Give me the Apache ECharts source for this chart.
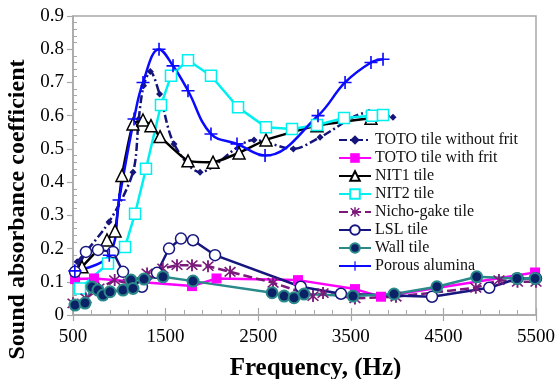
<!DOCTYPE html>
<html>
<head>
<meta charset="utf-8">
<script src="https://cdn.jsdelivr.net/npm/echarts@6/dist/echarts.min.js"></script>
<style>html,body{margin:0;padding:0;background:#fff}#c{width:555px;height:379px}</style>
</head>
<body>
<div id="c"></div>
<script>
// ---- data ----
const seriesNames = ["TOTO tile without frit","TOTO tile with frit","NIT1 tile","NIT2 tile","Nicho-gake tile","LSL tile","Wall tile","Porous alumina"];
const xTickLabels = [500,1500,2500,3500,4500,5500];
const yTickLabels = [0,0.1,0.2,0.3,0.4,0.5,0.6,0.7,0.8,0.9];

const totoNoFritHz  = [545,889,1148,1210,1262,1335,1435,1591,1872,2455,2880,3168,3697,3956];
const totoNoFritVal = [0.16,0.28,0.43,0.59,0.69,0.733,0.665,0.515,0.43,0.527,0.50,0.535,0.61,0.595];

const totoFritHz  = [522,727,1785,2050,2930,3545,3826,5490];
const totoFritVal = [0.108,0.11,0.087,0.11,0.105,0.078,0.055,0.128];

const nit1Hz  = [597,867,954,1029,1148,1256,1342,1440,1742,2012,2293,2584,3135,3718];
const nit1Val = [0.145,0.226,0.253,0.42,0.575,0.587,0.57,0.537,0.464,0.46,0.488,0.527,0.57,0.592];

const nit2Hz  = [576,878,1062,1170,1288,1450,1558,1742,1990,2282,2584,2865,3135,3427,3729,3848];
const nit2Val = [0.08,0.155,0.205,0.305,0.44,0.632,0.72,0.767,0.72,0.625,0.565,0.56,0.572,0.593,0.60,0.602];

const nichoHz  = [500,640,780,950,1100,1300,1470,1623,1785,1958,2196,2660,3092,3200,3545,3988,4850,5100,5300,5500];
const nichoVal = [0.035,0.05,0.08,0.105,0.095,0.125,0.14,0.15,0.15,0.147,0.13,0.097,0.057,0.066,0.05,0.055,0.082,0.105,0.1,0.1];

const lslHz  = [522,640,770,932,1040,1245,1407,1537,1666,1796,2034,2960,3394,4377,4995,5300,5500];
const lslVal = [0.13,0.19,0.196,0.19,0.13,0.085,0.127,0.2,0.23,0.225,0.18,0.085,0.064,0.055,0.082,0.11,0.11];

const wallHz  = [522,630,705,770,824,900,1040,1126,1148,1267,1472,1796,2650,2780,2887,2995,3524,3967,4430,4860,5295,5490];
const wallVal = [0.03,0.036,0.084,0.075,0.06,0.07,0.075,0.105,0.08,0.108,0.115,0.102,0.067,0.057,0.052,0.063,0.057,0.063,0.085,0.115,0.11,0.11];

const porousHz  = [520,892,997,1159,1256,1429,1580,1742,1990,2271,2574,3146,3438,3718,3848];
const porousVal = [0.133,0.18,0.346,0.59,0.70,0.80,0.75,0.675,0.545,0.515,0.48,0.60,0.70,0.76,0.77];

// ---- build ----
const X0 = xTickLabels[0];
const pts = (hz, v) => hz.map((f, i) => [f - X0, v[i]]);
const serif = '"Liberation Serif","Times New Roman",serif';
const gray = '#a8a8a8';

const asterisk = 'path://M-1.2,-9L1.2,-9L1.2,9L-1.2,9Z M-6.22,-7.78L7.78,6.22L6.22,7.78L-7.78,-6.22Z M7.78,-6.22L-6.22,7.78L-7.78,6.22L6.22,-7.78Z';
const plus = 'path://M-1,-8L1,-8L1,-1L8,-1L8,1L1,1L1,8L-1,8L-1,1L-8,1L-8,-1L-1,-1Z';

function mk(name, data, color, opts) {
  return Object.assign({
    name, type: 'line', data,
    lineStyle: { color, width: 2.5 },
    itemStyle: { color },
    symbolSize: 10,
    animation: false
  }, opts);
}

const series = [
  mk(seriesNames[0], pts(totoNoFritHz, totoNoFritVal), '#14147a', {
    symbol: 'diamond', symbolSize: 7, smooth: 0.3,
    lineStyle: { color: '#14147a', width: 2.5, type: [8, 3, 2, 3] }
  }),
  mk(seriesNames[1], pts(totoFritHz, totoFritVal), '#ff00ff', {
    symbol: 'rect', symbolSize: 10
  }),
  mk(seriesNames[2], pts(nit1Hz, nit1Val), '#000000', {
    symbol: 'triangle', symbolSize: 12, smooth: 0.15,
    itemStyle: { color: '#ffffff', borderColor: '#000000', borderWidth: 1.5 }
  }),
  mk(seriesNames[3], pts(nit2Hz, nit2Val), '#00f0f0', {
    symbol: 'rect', symbolSize: 11,
    itemStyle: { color: '#ffffff', borderColor: '#00f0f0', borderWidth: 1.5 }
  }),
  mk(seriesNames[4], pts(nichoHz, nichoVal), '#7a1a7a', {
    symbol: asterisk, symbolSize: 12,
    lineStyle: { color: '#7a1a7a', width: 2.5, type: [9, 4] }
  }),
  mk(seriesNames[5], pts(lslHz, lslVal), '#16167e', {
    symbol: 'circle', symbolSize: 11,
    itemStyle: { color: '#ffffff', borderColor: '#16167e', borderWidth: 1.5 }
  }),
  mk(seriesNames[6], pts(wallHz, wallVal), '#2a8a8a', {
    symbol: 'circle', symbolSize: 11,
    itemStyle: { color: '#0c2266', borderColor: '#2a8a8a', borderWidth: 2 }
  }),
  mk(seriesNames[7], pts(porousHz, porousVal), '#0a0aff', {
    symbol: plus, symbolSize: 13, smooth: 0.4
  })
];

const chart = echarts.init(document.getElementById('c'), null, { renderer: 'canvas' });
chart.setOption({
  backgroundColor: '#ffffff',
  animation: false,
  grid: { left: 73, right: 19, top: 16, bottom: 64, show: true, borderColor: gray, borderWidth: 1.5,
          backgroundColor: 'transparent', containLabel: false, outerBoundsMode: 'none' },
  legend: {
    data: seriesNames,
    orient: 'vertical',
    left: 333, top: 126,
    itemWidth: 32, itemHeight: 12, itemGap: 0,
    selectedMode: false,
    textStyle: { fontFamily: serif, fontSize: 16, color: '#111', lineHeight: 18, padding: [0,0,0,-1] }
  },
  xAxis: [{
    type: 'value', min: 0, max: xTickLabels[xTickLabels.length - 1] - X0, interval: 1000,
    axisLine: { show: true, lineStyle: { color: gray, width: 1.5 } },
    axisTick: { show: true, inside: false, length: 6, lineStyle: { color: gray, width: 1.2 } },
    axisLabel: { formatter: v => String(v + X0), fontFamily: serif, fontSize: 19, color: '#000', margin: 13 },
    splitLine: { show: false },
    name: 'Frequency, (Hz)', nameLocation: 'middle', nameGap: 41,
    nameTextStyle: { fontFamily: serif, fontSize: 25, fontWeight: 'bold', color: '#000', padding: [0,0,0,22] }
  }, {
    type: 'value', min: 0, max: xTickLabels[xTickLabels.length - 1] - X0, interval: 1000, position: 'bottom',
    axisLine: { show: false },
    axisTick: { show: true, inside: true, length: 7, lineStyle: { color: gray, width: 1.2 } },
    minorTick: { show: true, splitNumber: 5, length: 5, lineStyle: { color: gray, width: 1 } },
    axisLabel: { show: false }, splitLine: { show: false }
  }],
  yAxis: [{
    type: 'value', min: 0, max: yTickLabels[yTickLabels.length - 1], interval: 0.1,
    axisLine: { show: true, lineStyle: { color: gray, width: 1.5 } },
    axisTick: { show: true, inside: false, length: 6, lineStyle: { color: gray, width: 1.2 } },
    axisLabel: { formatter: v => String(Math.round(v * 10) / 10), fontFamily: serif, fontSize: 19, color: '#000', margin: 9 },
    splitLine: { show: false },
    name: 'Sound absorbance coefficient', nameLocation: 'middle', nameGap: 43,
    nameTextStyle: { fontFamily: serif, fontSize: 24, fontWeight: 'bold', color: '#000', padding: [0,88,0,0] }
  }, {
    type: 'value', min: 0, max: yTickLabels[yTickLabels.length - 1], interval: 0.1, position: 'left',
    axisLine: { show: false },
    axisTick: { show: false, inside: true, length: 5 },
    minorTick: { show: true, splitNumber: 5, length: 4, lineStyle: { color: gray, width: 1 } },
    axisLabel: { show: false }, splitLine: { show: false }
  }],
  series: series
});
</script>
</body>
</html>
